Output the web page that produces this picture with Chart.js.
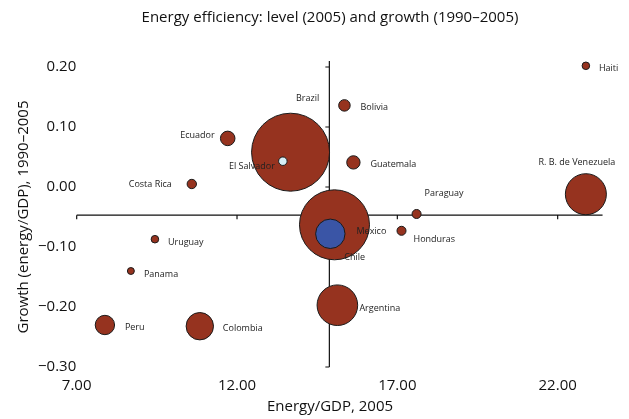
<!DOCTYPE html>
<html>
<head>
<meta charset="utf-8">
<script src="https://cdn.jsdelivr.net/npm/chart.js@4.4.0/dist/chart.umd.min.js"></script>
<style>
  html, body { margin: 0; padding: 0; background: #fff; }
  #wrap { width: 629px; height: 419px; }
</style>
</head>
<body>
<div id="wrap"><canvas id="canvas"></canvas></div>
<script>
// Countries (big bubbles first so the small ones stay visible on top)
const countries = ['Brazil', 'El Salvador', 'Mexico', 'Chile', 'Haiti', 'Bolivia', 'Ecuador', 'Costa Rica',
  'Guatemala', 'R. B. de Venezuela', 'Paraguay', 'Honduras', 'Uruguay', 'Panama', 'Argentina', 'Peru', 'Colombia'];
// Energy/GDP, 2005
const energyGdp = [13.67, 13.43, 15.04, 14.91, 22.88, 15.35, 11.71, 10.59, 15.63, 22.88, 17.60, 17.13, 9.44, 8.69, 15.13, 7.88, 10.84];
// Growth (energy/GDP), 1990-2005
const growth = [0.058, 0.043, -0.063, -0.078, 0.202, 0.136, 0.081, 0.005, 0.041, -0.012, -0.045, -0.073, -0.087, -0.140, -0.197, -0.230, -0.232];
// Energy use, gives the bubble area
const energyUse = [201, 2.4, 162, 28.6, 1.9, 4.4, 7.0, 2.9, 5.9, 55.6, 2.7, 2.7, 1.9, 1.6, 54.5, 12.4, 24.8];
// Axis ticks
const xTicks = [7, 12, 17, 22];
const yTicks = [-0.3, -0.2, -0.1, 0, 0.1, 0.2];
// Where the two axes cross, and how far they run
const crossX = 14.88;
const crossY = -0.047;
const xLineEnd = 23.4;
const yLineTop = 0.21;

// --- styles ---
const FONT = '"Open Sans", "DejaVu Sans", sans-serif';
const RED = '#96331f';
const special = { 'Chile': '#3a55a6', 'El Salvador': '#d6eef6' };
// label offset (px) from bubble centre + alignment
const labelPos = {
  'Haiti': [13, 3, 'left'], 'Bolivia': [16, 2, 'left'], 'Brazil': [17, -54, 'center'],
  'Ecuador': [-13, -3, 'right'], 'El Salvador': [-8, 5, 'right'], 'Costa Rica': [-20, 0, 'right'],
  'Guatemala': [17, 2, 'left'], 'R. B. de Venezuela': [-9, -32, 'center'], 'Paraguay': [8, -21, 'left'],
  'Honduras': [12, 9, 'left'], 'Mexico': [22, 7, 'left'], 'Chile': [14, 24, 'left'],
  'Uruguay': [13, 3, 'left'], 'Panama': [13, 3, 'left'], 'Argentina': [22, 3, 'left'],
  'Peru': [20, 2, 'left'], 'Colombia': [23, 2, 'left']
};

function fmt(v) {
  return v.toFixed(2).replace('-', '\u2212');
}

// axes drawn through the middle of the cloud
const crossLines = {
  id: 'crossLines',
  beforeDatasetsDraw(chart) {
    const { ctx, scales: { x, y } } = chart;
    const cx = x.getPixelForValue(crossX);
    const cy = y.getPixelForValue(crossY);
    ctx.save();
    ctx.strokeStyle = '#111';
    ctx.lineWidth = 1.2;
    ctx.beginPath();
    ctx.moveTo(cx, y.getPixelForValue(yLineTop));
    ctx.lineTo(cx, y.getPixelForValue(yTicks[0]));
    yTicks.forEach(v => {
      const py = y.getPixelForValue(v);
      ctx.moveTo(cx, py);
      ctx.lineTo(cx - 4, py);
    });
    ctx.moveTo(x.getPixelForValue(xTicks[0]), cy);
    ctx.lineTo(x.getPixelForValue(xLineEnd), cy);
    xTicks.forEach(v => {
      const px = x.getPixelForValue(v);
      ctx.moveTo(px, cy);
      ctx.lineTo(px, cy + 4);
    });
    ctx.stroke();
    ctx.restore();
  }
};

// country names next to the bubbles
const nameLabels = {
  id: 'nameLabels',
  afterDatasetsDraw(chart) {
    const { ctx } = chart;
    const meta = chart.getDatasetMeta(0);
    ctx.save();
    ctx.font = '9px ' + FONT;
    ctx.fillStyle = '#222';
    ctx.textBaseline = 'middle';
    meta.data.forEach((pt, i) => {
      const p = labelPos[countries[i]];
      ctx.textAlign = p[2];
      ctx.fillText(countries[i], pt.x + p[0], pt.y + p[1]);
    });
    ctx.restore();
  }
};

const points = energyGdp.map((x, i) => ({ x: x, y: growth[i], r: 2.75 * Math.sqrt(energyUse[i]) }));

new Chart(document.getElementById('canvas'), {
  type: 'bubble',
  data: {
    datasets: [{
      data: points,
      backgroundColor: countries.map(c => special[c] || RED),
      borderColor: '#1a1a1a',
      borderWidth: 1,
      clip: false
    }]
  },
  options: {
    responsive: true,
    maintainAspectRatio: false,
    animation: false,
    devicePixelRatio: 1,
    layout: { autoPadding: false, padding: { left: 8, right: 4, top: 0, bottom: 0 } },
    plugins: {
      legend: { display: false },
      tooltip: { enabled: false },
      title: {
        display: true,
        fullSize: false,
        text: 'Energy efficiency: level (2005) and growth (1990\u20132005)',
        font: { family: FONT, size: 15, weight: 'normal' },
        color: '#111',
        padding: { top: 9, bottom: 40 }
      }
    },
    scales: {
      x: {
        type: 'linear',
        min: 5.7,
        max: 24.1,
        afterBuildTicks: s => { s.ticks = xTicks.map(v => ({ value: v })); },
        afterFit: s => { s.height = 52; s.paddingLeft = 0; s.paddingRight = 0; },
        grid: { display: false },
        border: { display: false },
        ticks: {
          padding: 2,
          autoSkip: false,
          maxRotation: 0,
          color: '#111',
          font: { family: FONT, size: 15 },
          callback: v => fmt(v)
        },
        title: {
          display: true,
          text: 'Energy/GDP, 2005',
          color: '#111',
          font: { family: FONT, size: 15 },
          padding: { top: 0, bottom: 3 }
        }
      },
      y: {
        type: 'linear',
        min: -0.3,
        max: 0.2,
        afterBuildTicks: s => { s.ticks = yTicks.map(v => ({ value: v })); },
        afterFit: s => { s.width = 27; },
        grid: { display: false },
        border: { display: false },
        ticks: {
          mirror: true,
          crossAlign: 'far',
          padding: 3,
          color: '#111',
          font: { family: FONT, size: 15 },
          callback: v => fmt(v)
        },
        title: {
          display: true,
          text: 'Growth (energy/GDP), 1990\u20132005',
          color: '#111',
          font: { family: FONT, size: 15 },
          padding: { top: 7, bottom: 0 }
        }
      }
    }
  },
  plugins: [crossLines, nameLabels]
});
</script>
</body>
</html>
